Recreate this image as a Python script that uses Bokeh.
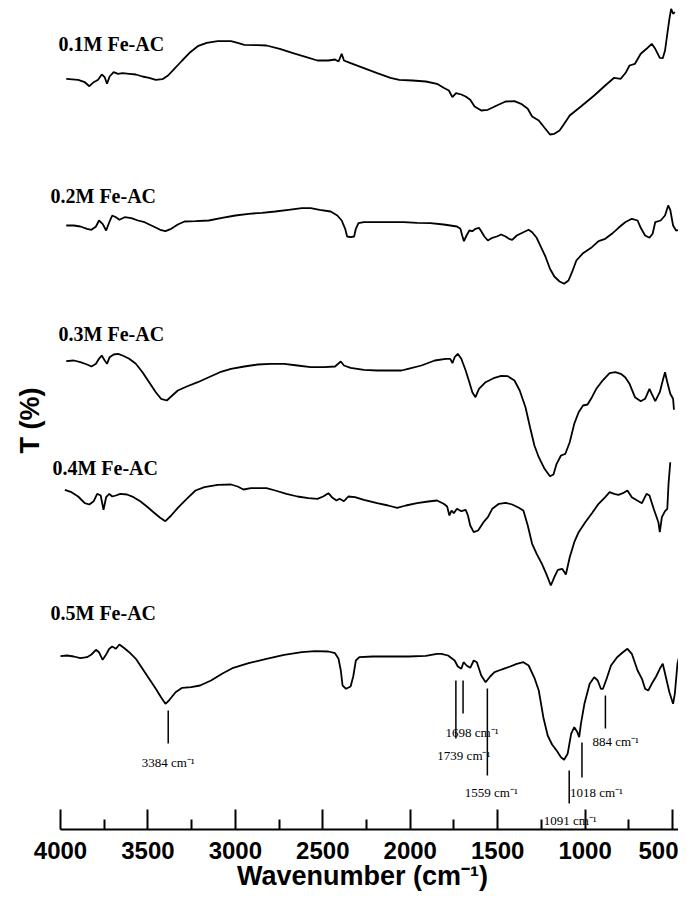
import numpy as np
from bokeh.plotting import figure
from bokeh.models import Range1d, FixedTicker
from bokeh.embed import file_html
from bokeh.resources import INLINE
from bokeh.core.properties import value

# ---- data: wavenumber (cm-1) and relative transmittance (arbitrary units) ----
WN_01 = [3967, 3899, 3861, 3835, 3810, 3785, 3764, 3747, 3734, 3719, 3696, 3671, 3645, 3607, 3569, 3531, 3493, 3455, 3417, 3385,
         3349, 3304, 3258, 3215, 3164, 3101, 3025, 2987, 2949, 2873, 2822, 2746, 2670, 2594, 2531, 2468, 2430, 2410, 2392, 2379,
         2341, 2265, 2189, 2113, 2063, 1987, 1911, 1847, 1809, 1779, 1759, 1738, 1708, 1683, 1657, 1632, 1594, 1556, 1505, 1455,
         1404, 1366, 1328, 1303, 1265, 1232, 1201, 1176, 1146, 1126, 1088, 1024, 948, 885, 834, 796, 766, 746, 715, 682,
         649, 619, 599, 573, 556, 543, 530, 518, 508, 497, 487]
T_01 = [150.7, 149.7, 147.3, 143.3, 147.3, 149.7, 155.0, 152.3, 145.7, 153.0, 157.3, 155.7, 156.3, 155.7, 155.0, 153.0, 151.7, 149.7, 150.3, 154.0,
        160.7, 169.0, 177.3, 183.3, 186.7, 188.3, 188.3, 186.7, 184.7, 184.3, 184.0, 180.7, 176.3, 172.3, 169.0, 169.0, 170.0, 168.0, 175.7, 169.0,
        166.3, 161.3, 156.3, 151.7, 149.7, 149.0, 148.0, 145.7, 141.7, 139.0, 132.3, 136.3, 135.0, 133.0, 129.7, 123.0, 119.0, 119.7, 124.0, 128.0,
        128.3, 125.7, 120.7, 113.0, 109.0, 101.7, 95.0, 95.7, 99.0, 104.0, 114.0, 123.0, 134.0, 144.0, 151.7, 150.7, 157.3, 164.0, 165.7, 175.7,
        180.7, 185.7, 180.7, 171.7, 171.3, 179.0, 195.7, 210.7, 220.7, 215.7, 217.3]

WN_02 = [3967, 3924, 3886, 3848, 3823, 3797, 3780, 3759, 3739, 3721, 3704, 3683, 3663, 3633, 3595, 3557, 3519, 3468, 3430, 3400,
         3367, 3329, 3291, 3228, 3152, 3076, 3000, 2924, 2848, 2772, 2696, 2620, 2569, 2518, 2455, 2417, 2392, 2372, 2361, 2341,
         2321, 2311, 2296, 2265, 2189, 2113, 2037, 1961, 1885, 1809, 1733, 1713, 1703, 1693, 1678, 1662, 1645, 1627, 1607, 1594,
         1576, 1556, 1531, 1505, 1480, 1455, 1435, 1417, 1391, 1353, 1323, 1303, 1277, 1252, 1227, 1201, 1176, 1146, 1120, 1095,
         1075, 1050, 1012, 961, 923, 885, 847, 809, 771, 733, 700, 682, 657, 632, 614, 599, 568, 543, 525, 513,
         497, 480, 454, 442, 434, 416, 404]
T_02 = [144.0, 144.0, 143.0, 140.7, 139.7, 143.0, 149.0, 145.7, 139.0, 147.3, 154.0, 152.3, 149.7, 152.3, 151.3, 149.0, 147.3, 143.0, 139.7, 138.3,
        140.7, 145.0, 148.0, 148.3, 149.0, 151.7, 154.0, 155.7, 156.7, 158.0, 159.7, 161.3, 161.3, 159.7, 158.0, 154.0, 149.0, 140.7, 133.0, 132.3,
        133.0, 140.7, 146.3, 147.3, 147.3, 147.3, 147.3, 146.7, 146.3, 145.0, 143.0, 140.7, 134.0, 128.3, 134.0, 139.0, 138.3, 140.7, 141.7, 138.3,
        133.0, 129.0, 131.7, 133.0, 135.0, 133.0, 130.7, 129.7, 134.0, 137.3, 139.7, 137.3, 131.7, 122.3, 113.0, 100.7, 93.0, 88.0, 85.7, 89.0,
        97.3, 109.0, 116.3, 122.3, 128.3, 130.7, 135.7, 141.7, 147.3, 150.7, 149.0, 141.7, 134.0, 131.7, 135.7, 147.3, 149.0, 154.0, 164.0, 159.7,
        144.0, 139.0, 139.7, 165.7, 185.7, 191.7, 204.0]

WN_03 = [3967, 3924, 3886, 3848, 3823, 3797, 3780, 3764, 3747, 3734, 3719, 3696, 3671, 3645, 3607, 3569, 3531, 3493, 3455, 3425,
         3392, 3367, 3329, 3278, 3215, 3152, 3088, 3025, 2949, 2873, 2797, 2721, 2645, 2569, 2493, 2430, 2412, 2397, 2379, 2341,
         2265, 2189, 2113, 2050, 2012, 1936, 1860, 1797, 1771, 1759, 1746, 1728, 1708, 1683, 1662, 1645, 1627, 1607, 1569, 1518,
         1480, 1442, 1404, 1374, 1341, 1315, 1290, 1265, 1232, 1201, 1181, 1163, 1138, 1113, 1088, 1062, 1037, 1012, 986, 961,
         936, 903, 860, 827, 796, 771, 746, 715, 682, 657, 632, 619, 599, 573, 556, 543, 530, 513, 497, 492]
T_03 = [148.3, 149.0, 147.3, 145.0, 143.0, 145.7, 150.7, 154.0, 149.0, 145.7, 152.3, 155.0, 155.7, 154.0, 150.7, 145.7, 137.3, 127.3, 117.3, 110.7,
        109.0, 113.0, 119.0, 123.0, 127.3, 132.3, 137.3, 140.7, 143.0, 145.0, 145.7, 145.7, 144.0, 142.3, 142.3, 143.0, 145.7, 148.0, 144.0, 141.7,
        139.7, 139.0, 139.0, 139.0, 140.7, 144.0, 149.0, 150.7, 150.7, 146.3, 152.3, 155.7, 150.7, 139.0, 127.3, 117.3, 112.3, 120.7, 127.3, 131.7,
        133.7, 133.3, 129.0, 119.0, 102.3, 82.3, 64.0, 52.3, 40.7, 33.3, 35.0, 45.7, 54.0, 55.7, 67.3, 85.7, 97.3, 104.0, 105.0, 112.3,
        120.7, 128.3, 136.3, 137.3, 135.7, 132.3, 125.7, 112.3, 108.3, 110.7, 120.7, 115.7, 108.3, 117.3, 129.0, 137.3, 127.3, 115.7, 110.7, 99.7]

WN_04 = [3975, 3937, 3899, 3861, 3835, 3810, 3790, 3770, 3754, 3739, 3721, 3704, 3683, 3658, 3620, 3582, 3544, 3506, 3468, 3430,
         3400, 3367, 3329, 3278, 3228, 3177, 3101, 3025, 2987, 2954, 2911, 2822, 2772, 2708, 2645, 2582, 2531, 2498, 2468, 2448,
         2422, 2404, 2379, 2354, 2316, 2265, 2189, 2126, 2075, 2025, 1961, 1898, 1847, 1809, 1789, 1776, 1764, 1751, 1733, 1708,
         1683, 1670, 1657, 1637, 1612, 1581, 1556, 1531, 1493, 1455, 1417, 1379, 1353, 1328, 1303, 1277, 1247, 1222, 1196, 1176,
         1156, 1131, 1110, 1088, 1062, 1037, 999, 961, 923, 885, 860, 834, 809, 784, 758, 733, 702, 675, 649, 632,
         606, 581, 573, 561, 543, 530, 523, 513]
T_04 = [159.7, 157.3, 153.0, 146.3, 145.0, 148.3, 155.7, 154.0, 139.7, 152.3, 155.7, 153.0, 154.0, 155.7, 155.0, 152.3, 148.3, 143.0, 137.3, 131.7,
        128.3, 134.0, 141.7, 150.7, 159.0, 162.3, 164.7, 165.0, 163.0, 160.0, 161.3, 161.3, 159.0, 155.7, 153.0, 151.3, 150.7, 153.0, 156.3, 152.3,
        149.0, 150.7, 148.3, 153.0, 152.3, 149.7, 146.3, 144.0, 141.7, 144.0, 146.3, 148.0, 149.0, 145.7, 143.0, 134.0, 139.0, 136.3, 140.7, 138.3,
        139.7, 134.0, 124.0, 117.3, 119.0, 127.3, 132.3, 140.7, 145.7, 146.7, 145.0, 141.7, 139.0, 124.0, 105.7, 95.7, 85.7, 75.7, 64.0, 72.3,
        79.7, 80.7, 75.0, 92.3, 107.3, 117.3, 127.3, 136.3, 145.7, 152.3, 157.3, 155.7, 154.7, 156.3, 159.0, 152.3, 149.0, 146.3, 155.7, 154.0,
        139.7, 127.3, 117.3, 132.3, 138.3, 140.7, 165.7, 187.3]

WN_05 = [4000, 3962, 3924, 3886, 3848, 3823, 3797, 3780, 3759, 3739, 3721, 3704, 3683, 3663, 3638, 3607, 3569, 3531, 3493, 3455,
         3425, 3400, 3380, 3342, 3304, 3253, 3202, 3139, 3076, 3012, 2924, 2822, 2721, 2620, 2544, 2468, 2430, 2410, 2397, 2387,
         2367, 2341, 2326, 2311, 2291, 2215, 2113, 2012, 1911, 1847, 1822, 1784, 1746, 1728, 1708, 1695, 1678, 1657, 1637, 1619,
         1594, 1569, 1543, 1518, 1493, 1467, 1429, 1391, 1353, 1323, 1290, 1265, 1239, 1214, 1189, 1163, 1138, 1120, 1100, 1080,
         1062, 1044, 1034, 1024, 1004, 974, 948, 928, 910, 898, 877, 852, 817, 784, 758, 733, 700, 675, 657, 639,
         619, 594, 573, 556, 538, 518, 497, 487, 472, 454, 442, 421, 411]
T_05 = [133.3, 134.0, 133.0, 131.3, 132.3, 135.0, 139.7, 137.3, 129.7, 135.0, 140.7, 143.0, 140.7, 145.0, 141.7, 137.3, 130.7, 120.7, 110.7, 100.7,
        92.3, 85.7, 89.0, 97.3, 101.7, 102.3, 104.0, 109.0, 115.7, 121.7, 126.3, 130.7, 134.7, 137.3, 138.3, 138.0, 136.3, 130.7, 119.0, 104.0,
        100.7, 103.0, 113.0, 129.0, 132.3, 133.0, 133.0, 133.0, 133.7, 135.7, 135.7, 134.0, 129.0, 123.0, 120.7, 127.3, 124.0, 121.7, 129.0, 127.3,
        114.0, 107.3, 113.0, 117.3, 119.0, 120.7, 123.0, 125.7, 127.3, 124.0, 111.7, 99.0, 72.3, 54.0, 45.0, 39.0, 32.3, 29.7, 35.7, 55.7,
        62.3, 57.3, 52.3, 65.7, 85.7, 105.7, 112.3, 109.0, 100.7, 100.7, 110.7, 124.0, 132.3, 137.3, 140.7, 135.7, 119.0, 110.7, 100.7, 99.0,
        105.7, 113.0, 120.7, 125.7, 112.3, 97.3, 85.7, 95.7, 125.7, 139.0, 149.0, 155.7, 162.3]

SERIES = ["0.1M Fe-AC", "0.2M Fe-AC", "0.3M Fe-AC", "0.4M Fe-AC", "0.5M Fe-AC"]
WNS = [WN_01, WN_02, WN_03, WN_04, WN_05]
TS = [T_01, T_02, T_03, T_04, T_05]
OFFSETS = [600, 460, 320, 180, 40]

# band assignments marked on the 0.5M spectrum
PEAKS = [3384, 1739, 1698, 1559, 1091, 1018, 884]
PEAK_TEXT = ["3384 cm⁻¹", "1739 cm⁻¹", "1698 cm⁻¹", "1559 cm⁻¹", "1091 cm⁻¹", "1018 cm⁻¹", "884 cm⁻¹"]

X_TICKS = [4000, 3500, 3000, 2500, 2000, 1500, 1000, 500]
X_MINOR = [3750, 3250, 2750, 2250, 1750, 1250, 750]
X_TITLE = "Wavenumber (cm⁻¹)"
Y_TITLE = "T (%)"

# ---- layout (positions only) ----
LINE_TOP = [119, 149, 149, 141, 59, 87, 134]
LINE_BOT = [86, 91, 116, 54, 26, 52, 101]
TEXT_Y = [67, 74, 97, 37, 9, 37, 88]
TEXT_ALIGN = ["center", "center", "center", "center", "center", "left", "left"]
TEXT_DX = [0, 8, 9, 4, 1, -12, -13]
SERIES_X = [4011, 4057, 4011, 4046, 4057]
SERIES_Y = [786, 634, 496, 362, 217]
X_TITLE_POS = (2273, -46)
Y_TITLE_POS = (4172, 409)

p = figure(width=678, height=891, x_range=Range1d(4343, 466), y_range=Range1d(-62, 829),
           output_backend="svg", toolbar_location=None,
           min_border=0, min_border_left=0, min_border_right=0, min_border_top=0, min_border_bottom=0)
p.outline_line_color = None
p.grid.visible = False
p.background_fill_color = "white"
p.border_fill_color = "white"

for wn, t, off in zip(WNS, TS, OFFSETS):
    p.line(wn, np.array(t) + off, line_color="black", line_width=1.8)

p.text(x=SERIES_X, y=SERIES_Y, text=SERIES, text_font=value("Liberation Serif"),
       text_font_style=value("bold"), text_font_size=value("20px"),
       text_baseline=value("middle"), text_align=value("left"), text_color="black")

p.segment(x0=PEAKS, y0=LINE_TOP, x1=PEAKS, y1=LINE_BOT, line_color="black", line_width=1.5)
for wn, txt, ty, al, dx in zip(PEAKS, PEAK_TEXT, TEXT_Y, TEXT_ALIGN, TEXT_DX):
    p.text(x=[wn], y=[ty], text=[txt], x_offset=dx, text_font=value("Liberation Serif"),
           text_font_size=value("13px"), text_baseline=value("middle"), text_align=value(al),
           text_color="black")

# axis titles
p.text(x=[X_TITLE_POS[0]], y=[X_TITLE_POS[1]], text=[X_TITLE], text_font=value("Liberation Sans"),
       text_font_style=value("bold"), text_font_size=value("27px"),
       text_baseline=value("middle"), text_align=value("center"), text_color="black")
p.text(x=[Y_TITLE_POS[0]], y=[Y_TITLE_POS[1]], text=[Y_TITLE], angle=np.pi / 2,
       text_font=value("Liberation Sans"), text_font_style=value("bold"), text_font_size=value("27px"),
       text_baseline=value("middle"), text_align=value("center"), text_color="black")

xa = p.xaxis[0]
xa.fixed_location = 0
xa.ticker = FixedTicker(ticks=X_TICKS, minor_ticks=X_MINOR)
xa.bounds = (466, 4000)
xa.axis_line_width = 2
xa.axis_line_color = "black"
xa.major_tick_in = 20
xa.major_tick_out = 0
xa.minor_tick_in = 10
xa.minor_tick_out = 0
xa.major_tick_line_width = 2
xa.minor_tick_line_width = 2
xa.major_label_text_font = "Liberation Sans"
xa.major_label_text_font_style = "bold"
xa.major_label_text_font_size = "24px"
xa.major_label_text_color = "black"
xa.major_label_standoff = 12

p.yaxis.visible = False

open("out.html", "w").write(file_html(p, INLINE))
